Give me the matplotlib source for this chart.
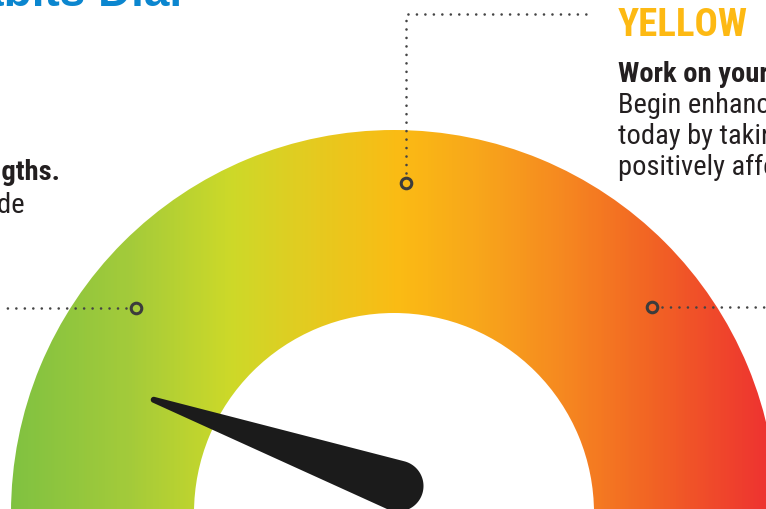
import numpy as np
import matplotlib
matplotlib.use("Agg")
import matplotlib.pyplot as plt
from matplotlib.colors import LinearSegmentedColormap
from matplotlib.patches import Wedge, Polygon
from matplotlib import font_manager as fm

# ---------------- data ----------------
zone_names = ["GREEN", "YELLOW", "RED"]
zone_marker_angles = [141.5, 88.0, 38.7]      # degrees on the dial
needle_value = 10.8                            # score on a 0-100 dial
dial_min, dial_max = 0, 100
title_text = "Habits Dial"
left_bold = "Keep building on your strengths."
left_body = "Continue the healthy choices you've made"
right_heading = "YELLOW"
right_bold = "Work on your habits."
right_body = ["Begin enhancing your habits",
              "today by taking small steps that",
              "positively affect your health."]

# ---------------- geometry (pixels -> dial units) ----------------
W, H = 766, 510
R_PX = 383.0            # outer radius in px
CX, CY = 394.0, 514.0   # dial centre in px
R_IN = 200.0 / R_PX
R_MARK = 330.0 / R_PX


def px(x, y):
    return ((x - CX) / R_PX, (CY - y) / R_PX)


X0, Y0 = px(0, H)
X1, Y1 = px(W, 0)

names = {f.name for f in fm.fontManager.ttflist}
if "Roboto Condensed" in names:
    NARROW = "Roboto Condensed"
elif "Liberation Sans Narrow" in names:
    NARROW = "Liberation Sans Narrow"
else:
    NARROW = "Liberation Sans"

fig = plt.figure(figsize=(W / 100, H / 100), dpi=100)
ax = fig.add_axes([0, 0, 1, 1])
ax.set_xlim(X0, X1)
ax.set_ylim(Y0, Y1)
ax.axis("off")

# ---------------- gradient band ----------------
stops_px = [10, 130, 230, 310, 400, 480, 560, 650, 766]
stops_col = ["#7dc142", "#a4cb3a", "#cdd929", "#e4cb20", "#fbbb14",
             "#f8a61b", "#f68a20", "#f26524", "#ee3430"]
pos = [s / W for s in stops_px]
pos[0] = 0.0
pos[-1] = 1.0
cmap = LinearSegmentedColormap.from_list("dial", list(zip(pos, stops_col)))
grad = np.linspace(0, 1, 800).reshape(1, -1)
band = Wedge((0, 0), 1.0, 0, 360, width=1.0 - R_IN, transform=ax.transData,
             facecolor="none", edgecolor="none")
ax.add_patch(band)
im = ax.imshow(grad, extent=[X0, X1, Y0, Y1], cmap=cmap, aspect="auto",
               origin="lower", interpolation="bilinear", zorder=1)
im.set_clip_path(band)

# ---------------- needle ----------------
pivot = np.array(px(398, 487))
needle_len = 259.0 / R_PX
r_base = 25.5 / R_PX
r_tip = 3.0 / R_PX
ang = np.deg2rad(180.0 - (needle_value - dial_min) / (dial_max - dial_min) * 180.0)
tip = pivot + needle_len * np.array([np.cos(ang), np.sin(ang)])
t = np.linspace(0, 2 * np.pi, 120, endpoint=False)
pts = np.vstack([np.c_[pivot[0] + r_base * np.cos(t), pivot[1] + r_base * np.sin(t)],
                 np.c_[tip[0] + r_tip * np.cos(t), tip[1] + r_tip * np.sin(t)]])


def hull(p):
    p = sorted(map(tuple, p))
    def cross(o, a, b):
        return (a[0] - o[0]) * (b[1] - o[1]) - (a[1] - o[1]) * (b[0] - o[0])
    lower, upper = [], []
    for q in p:
        while len(lower) >= 2 and cross(lower[-2], lower[-1], q) <= 0:
            lower.pop()
        lower.append(q)
    for q in reversed(p):
        while len(upper) >= 2 and cross(upper[-2], upper[-1], q) <= 0:
            upper.pop()
        upper.append(q)
    return np.array(lower[:-1] + upper[:-1])


ax.add_patch(Polygon(hull(pts), closed=True, facecolor="#1b1b1b",
                     edgecolor="none", zorder=5))

# ---------------- markers and leaders ----------------
DOT = "#444444"
dot_style = dict(color=DOT, lw=1.9, linestyle=(0, (0.01, 3.2)),
                 dash_capstyle="round", zorder=4)
mk = {}
for name, a in zip(zone_names, zone_marker_angles):
    r = np.deg2rad(a)
    mk[name] = (R_MARK * np.cos(r), R_MARK * np.sin(r))
    ax.plot(*mk[name], "o", ms=7.6, mfc="none", mec="#3c3c3c", mew=2.2, zorder=6)

gap = 10.0 / R_PX
gx, gy = mk["GREEN"]
ax.plot([gx - gap, X0], [gy, gy], **dot_style)
rx, ry = mk["RED"]
ax.plot([rx + gap, X1], [ry, ry], **dot_style)
yx, yy = mk["YELLOW"]
top_y = px(0, 15)[1]
end_x = px(592, 0)[0]
ax.plot([yx, yx, end_x], [yy + gap, top_y, top_y], **dot_style)

# ---------------- text ----------------
DARK = "#231f20"
BODY = 20.5
ax.text(*px(182, 6), title_text, ha="right", va="baseline", fontsize=33,
        fontweight="bold", color="#0b86cf", family="Liberation Sans")

ax.text(*px(60, 180), left_bold, ha="right", va="baseline", fontsize=BODY,
        fontweight="bold", color=DARK, family=NARROW)
ax.text(*px(25, 213), left_body, ha="right", va="baseline", fontsize=BODY,
        color=DARK, family=NARROW)

ax.text(*px(618, 36), right_heading, ha="left", va="baseline", fontsize=28,
        fontweight="bold", color="#fdb913", family=NARROW)
ax.text(*px(618, 82), right_bold, ha="left", va="baseline", fontsize=BODY,
        fontweight="bold", color=DARK, family=NARROW)
for i, line in enumerate(right_body):
    ax.text(*px(618, 113 + 31 * i), line, ha="left", va="baseline",
            fontsize=BODY, color=DARK, family=NARROW)

fig.savefig("out.png", dpi=100)
